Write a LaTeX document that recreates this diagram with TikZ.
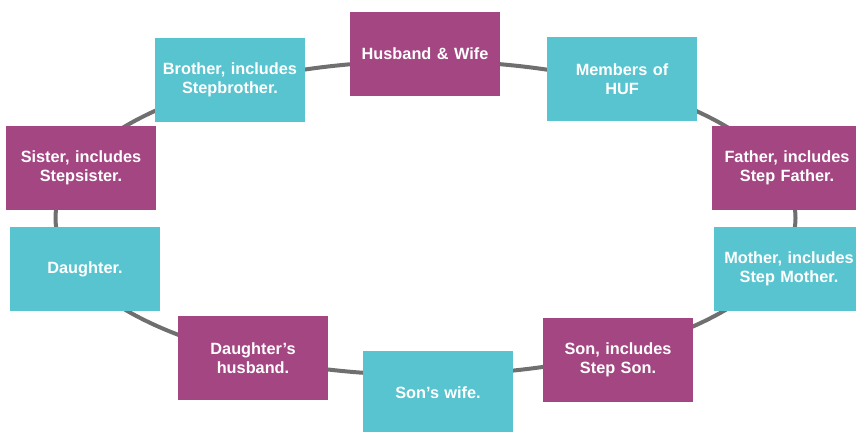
\documentclass[tikz,border=0pt]{standalone}
\usepackage{fontspec}
\setmainfont{Liberation Sans}
\definecolor{hufpurple}{HTML}{A34682}
\definecolor{hufteal}{HTML}{57C4CF}
\definecolor{hufring}{HTML}{6F6F6F}
\begin{document}
\begin{tikzpicture}[x=1pt,y=-1pt,font=\fontsize{16.3}{19.5}\selectfont\bfseries,
  member/.style={minimum width=150pt,minimum height=84pt,text width=148pt,align=center,text=white,inner sep=1pt},
  purplebox/.style={member,fill=hufpurple},
  tealbox/.style={member,fill=hufteal}]
\useasboundingbox (0,0) rectangle (856,431);
\draw[hufring,line width=4pt] (425.5,218) ellipse [x radius=370, y radius=157];
\node[purplebox] (hw) at (425,54) {Husband \& Wife};
\node[tealbox] (huf) at (622,79) {Members of\\HUF};
\node[purplebox] (father) at (787,168) {Father, includes\\Step Father.};
\node[tealbox] (mother) at (789,269) {Mother, includes\\Step Mother.};
\node[purplebox] (son) at (618,360) {Son, includes\\Step Son.};
\node[tealbox] (sonwife) at (438,393) {Son’s wife.};
\node[purplebox] (dhusband) at (253,358) {Daughter’s\\husband.};
\node[tealbox] (daughter) at (85,269) {Daughter.};
\node[purplebox] (sister) at (81,168) {Sister, includes\\Stepsister.};
\node[tealbox] (brother) at (230,80) {Brother, includes\\Stepbrother.};
\end{tikzpicture}
\end{document}
